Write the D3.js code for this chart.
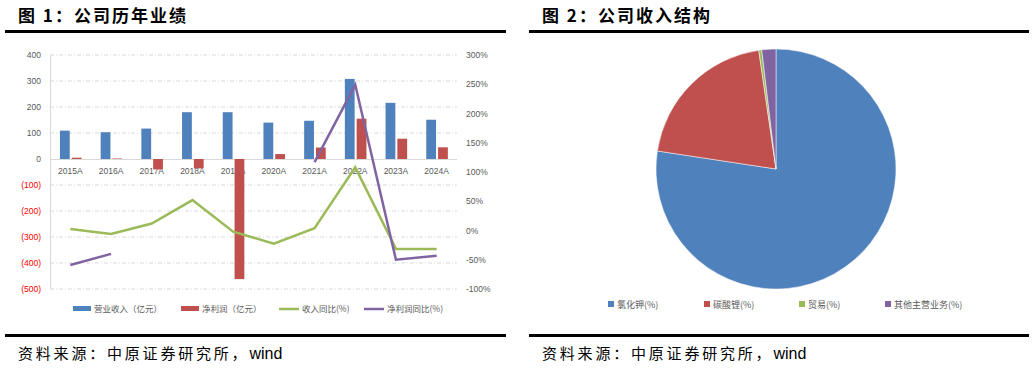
<!DOCTYPE html>
<html>
<head>
<meta charset="utf-8">
<script src="https://cdn.jsdelivr.net/npm/d3@7"></script>
<style>
  body { margin: 0; background: #fff; }
  text { font-family: "Noto Sans CJK SC", "Liberation Sans", sans-serif; }
</style>
</head>
<body>
<div id="chart"></div>
<script>
// data
const years = ["2015A", "2016A", "2017A", "2018A", "2019A", "2020A", "2021A", "2022A", "2023A", "2024A"];
const revenue = [109, 103, 117, 180, 180, 140, 147, 308, 216, 151];
const netProfit = [5, 2, -40, -36, -462, 19, 44, 155, 78, 45];
const revenueYoY = [2.5, -6, 12, 52, -2, -22.5, 4, 108, -31.5, -31.5];
const profitYoY = [-59, -40, null, null, null, null, 117, 249, -50, -43];
const leftTicks = [400, 300, 200, 100, 0, -100, -200, -300, -400, -500];
const rightTicks = [300, 250, 200, 150, 100, 50, 0, -50, -100];

const pieNames = ["氯化钾(%)", "碳酸锂(%)", "贸易(%)", "其他主营业务(%)"];
const pieValues = [77.4, 20.3, 0.4, 1.9];
const colors = ["#4F81BD", "#C0504D", "#9BBB59", "#8064A2"];

const svg = d3.select("#chart")
  .append("svg")
  .attr("width", 1034)
  .attr("height", 368);

svg.append("rect").attr("width", 1034).attr("height", 368).attr("fill", "#fff");

// panel frames: title, rules, source
function panelFrame(x0, x1, title) {
  svg.append("text")
    .attr("x", x0 + 13)
    .attr("y", 22)
    .attr("font-size", 17)
    .attr("font-weight", "bold")
    .attr("letter-spacing", 2)
    .attr("fill", "#000")
    .text(title);
  svg.append("rect").attr("x", x0).attr("y", 30).attr("width", x1 - x0).attr("height", 3).attr("fill", "#000");
  svg.append("rect").attr("x", x0).attr("y", 334).attr("width", x1 - x0).attr("height", 3).attr("fill", "#000");
  const src = svg.append("text")
    .attr("x", x0 + 13)
    .attr("y", 359)
    .attr("font-size", 15)
    .attr("fill", "#000");
  src.append("tspan").attr("letter-spacing", 2.8).text("资料来源：中原证券研究所，");
  src.append("tspan")
    .style("font-family", "'Liberation Sans', sans-serif")
    .attr("font-size", 16)
    .text("wind");
}
panelFrame(5, 506, "图 1：公司历年业绩");
panelFrame(529, 1029, "图 2：公司收入结构");

// chart 1
const x = d3.scaleBand().domain(years).range([50, 457]);
const yL = d3.scaleLinear().domain([-500, 400]).range([289, 55]);
const yR = d3.scaleLinear().domain([-100, 300]).range([289, 55]);
const grey = "#595959";

// grid
svg.append("g")
  .selectAll("line")
  .data(leftTicks.filter(d => d !== 0))
  .enter()
  .append("line")
  .attr("x1", 50)
  .attr("x2", 457)
  .attr("y1", d => yL(d))
  .attr("y2", d => yL(d))
  .attr("stroke", "#D9D9D9")
  .attr("stroke-width", 1)
  .attr("stroke-dasharray", "4,2,1,2");

svg.append("line")
  .attr("x1", 50.5).attr("x2", 50.5)
  .attr("y1", yL(400)).attr("y2", yL(-500))
  .attr("stroke", "#D9D9D9");

// left axis
const axL = svg.append("g")
  .attr("transform", "translate(50,0)")
  .call(d3.axisLeft(yL).tickValues(leftTicks).tickSize(0).tickPadding(9)
    .tickFormat(d => d < 0 ? "(" + (-d) + ")" : d));
axL.select(".domain").remove();
axL.selectAll("text")
  .attr("font-size", 8.5)
  .style("font-family", "'Liberation Sans', sans-serif")
  .attr("fill", d => d < 0 ? "#FF0000" : grey);

// right axis
const axR = svg.append("g")
  .attr("transform", "translate(457,0)")
  .call(d3.axisRight(yR).tickValues(rightTicks).tickSize(0).tickPadding(9)
    .tickFormat(d => d + "%"));
axR.select(".domain").remove();
axR.selectAll("text")
  .attr("font-size", 8.5)
  .style("font-family", "'Liberation Sans', sans-serif")
  .attr("fill", grey);

// category labels (under the bars)
svg.append("g")
  .selectAll("text")
  .data(years)
  .enter()
  .append("text")
  .attr("x", d => x(d) + x.bandwidth() / 2)
  .attr("y", 174)
  .attr("text-anchor", "middle")
  .attr("font-size", 8.5)
  .style("font-family", "'Liberation Sans', sans-serif")
  .attr("fill", grey)
  .text(d => d);

// zero line
svg.append("line")
  .attr("x1", 50).attr("x2", 457)
  .attr("y1", yL(0) + 0.5).attr("y2", yL(0) + 0.5)
  .attr("stroke", "#D9D9D9");

const barW = 9.8;
svg.append("g")
  .selectAll("rect")
  .data(years)
  .enter()
  .append("rect")
  .attr("x", d => x(d) + x.bandwidth() / 2 - barW - 0.6)
  .attr("y", (d, i) => yL(revenue[i]))
  .attr("width", barW)
  .attr("height", (d, i) => yL(0) - yL(revenue[i]))
  .attr("fill", colors[0]);

svg.append("g")
  .selectAll("rect")
  .data(years)
  .enter()
  .append("rect")
  .attr("x", d => x(d) + x.bandwidth() / 2 + 1.4)
  .attr("y", (d, i) => yL(Math.max(0, netProfit[i])))
  .attr("width", barW)
  .attr("height", (d, i) => Math.abs(yL(0) - yL(netProfit[i])))
  .attr("fill", colors[1]);

// lines
const cx = d => x(d) + x.bandwidth() / 2;
const line = d3.line()
  .defined(d => d[1] !== null)
  .x(d => cx(d[0]))
  .y(d => yR(d[1]));

svg.append("path")
  .datum(years.map((d, i) => [d, revenueYoY[i]]))
  .attr("d", line)
  .attr("fill", "none")
  .attr("stroke", colors[2])
  .attr("stroke-width", 2.5);

svg.append("path")
  .datum(years.map((d, i) => [d, profitYoY[i]]))
  .attr("d", line)
  .attr("fill", "none")
  .attr("stroke", colors[3])
  .attr("stroke-width", 2.5);

// legend chart 1
const legend1 = [
  { name: "营业收入（亿元）", type: "bar", x: 73 },
  { name: "净利润（亿元）", type: "bar", x: 181 },
  { name: "收入同比(%)", type: "line", x: 279 },
  { name: "净利润同比(%)", type: "line", x: 364 }
];
legend1.forEach((d, i) => {
  if (d.type === "bar") {
    svg.append("rect").attr("x", d.x).attr("y", 306).attr("width", 18).attr("height", 5).attr("fill", colors[i]);
  } else {
    svg.append("line").attr("x1", d.x).attr("x2", d.x + 20).attr("y1", 309).attr("y2", 309)
      .attr("stroke", colors[i]).attr("stroke-width", 2.5);
  }
  svg.append("text")
    .attr("x", d.x + (d.type === "bar" ? 21 : 23))
    .attr("y", 312)
    .attr("font-size", 8.5)
    .attr("fill", grey)
    .text(d.name);
});

// chart 2: pie
const pie = d3.pie().sort(null).value(d => d);
const arc = d3.arc().innerRadius(0).outerRadius(120);
svg.append("g")
  .attr("transform", "translate(776,169)")
  .selectAll("path")
  .data(pie(pieValues))
  .enter()
  .append("path")
  .attr("d", arc)
  .attr("fill", (d, i) => colors[i])
  .attr("stroke", "#fff")
  .attr("stroke-width", 0.5);

const legend2X = [608, 704, 799, 885];
pieNames.forEach((name, i) => {
  svg.append("rect").attr("x", legend2X[i]).attr("y", 301).attr("width", 6).attr("height", 6).attr("fill", colors[i]);
  svg.append("text")
    .attr("x", legend2X[i] + 9)
    .attr("y", 307.5)
    .attr("font-size", 9)
    .attr("fill", grey)
    .text(name);
});
</script>
</body>
</html>
